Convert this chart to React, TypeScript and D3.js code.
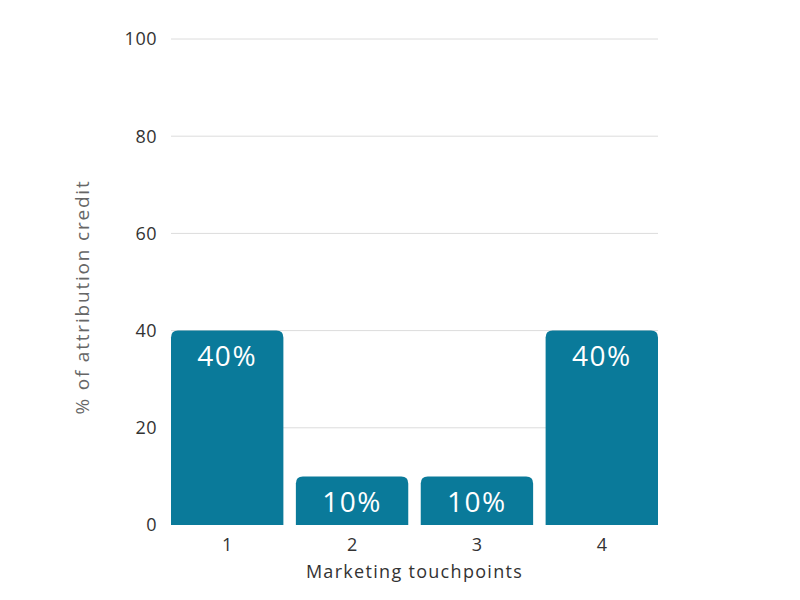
import React from "react";
import * as d3 from "d3";

const categories = ["1", "2", "3", "4"];
const values = [40, 10, 10, 40];
const yTicks = [0, 20, 40, 60, 80, 100];

const W = 800, H = 600;
const M = { left: 171, right: 142, top: 39, bottom: 75 };
const FONT = "'Open Sans', 'Noto Sans', sans-serif";
const BAR = "#0a7a9a";

function roundedTop(x: number, y: number, w: number, h: number, r: number) {
  const rr = Math.min(r, h, w / 2);
  return `M${x},${y + h}V${y + rr}Q${x},${y} ${x + rr},${y}H${x + w - rr}Q${x + w},${y} ${x + w},${y + rr}V${y + h}Z`;
}

export default function App() {
  const x = d3.scaleBand().domain(categories).range([M.left, W - M.right]).paddingInner(0.1).paddingOuter(0);
  const y = d3.scaleLinear().domain([0, 100]).range([H - M.bottom, M.top]);
  return (
    <svg width={W} height={H} style={{ position: "absolute", left: 0, top: 0, background: "#fff" }}>
      {yTicks.map((t) => (
        <g key={t}>
          {t > 0 && <line x1={M.left} x2={W - M.right} y1={y(t)} y2={y(t)} stroke="#dcdcdc" strokeWidth={1} />}
          <text x={157} y={y(t)} dy="0.35em" textAnchor="end" fontFamily={FONT} fontSize={18} letterSpacing={0.5} fill="#333">{t}</text>
        </g>
      ))}
      {categories.map((c, i) => {
        const bx = x(c)!;
        const bw = x.bandwidth();
        const by = y(values[i]);
        const bh = y(0) - by;
        return (
          <g key={c}>
            <path d={roundedTop(bx, by, bw, bh, 7)} fill={BAR} />
            <text x={bx + bw / 2} y={by + 26} dy="0.35em" textAnchor="middle" fontFamily={FONT} fontSize={28} letterSpacing={1.5} fill="#fff">{values[i]}%</text>
            <text x={bx + bw / 2} y={545} dy="0.35em" textAnchor="middle" fontFamily={FONT} fontSize={18} fill="#333">{c}</text>
          </g>
        );
      })}
      <text x={(M.left + W - M.right) / 2} y={572} dy="0.35em" textAnchor="middle" fontFamily={FONT} fontSize={18} letterSpacing={1.3} fill="#333">Marketing touchpoints</text>
      <text transform={`translate(82,${(y(0) + y(100)) / 2 + 15}) rotate(-90)`} dy="0.35em" textAnchor="middle" fontFamily={FONT} fontSize={19} letterSpacing={1.8} fill="#666">% of attribution credit</text>
    </svg>
  );
}
